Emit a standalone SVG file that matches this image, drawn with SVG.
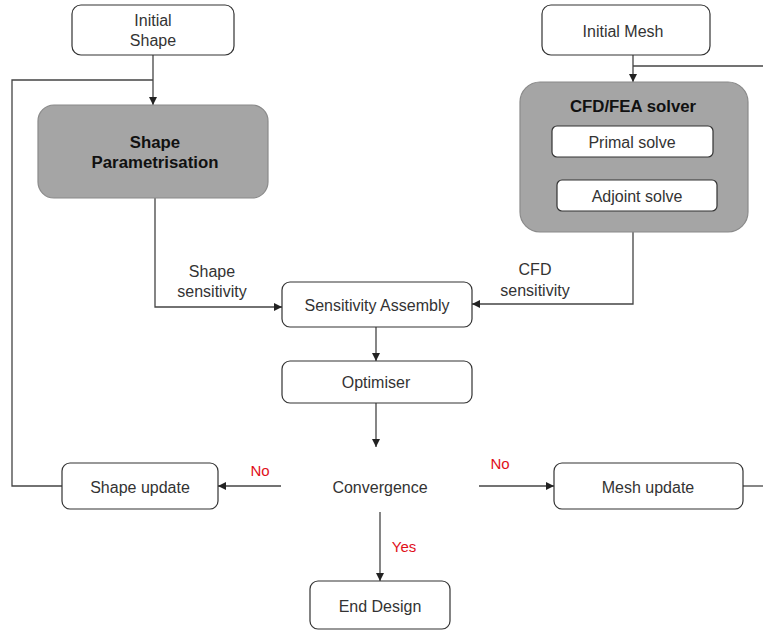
<svg xmlns="http://www.w3.org/2000/svg" width="763" height="631" viewBox="0 0 763 631">
<defs>
<marker id="arr" viewBox="0 0 10 10" refX="10" refY="5" markerWidth="8" markerHeight="8" markerUnits="userSpaceOnUse" orient="auto">
<path d="M0,0 L10,5 L0,10 z" fill="#222"/>
</marker>
<style>
.box{fill:#fff;stroke:#333;stroke-width:1.2}
.gray{fill:#a5a5a5;stroke:#8a8a8a;stroke-width:1.2}
.t{font-family:"Liberation Sans",Arial,sans-serif;font-size:16px;fill:#333;text-anchor:middle;dominant-baseline:central}
.b{font-weight:bold;fill:#111;font-size:16.8px}
.red{fill:#e0101a}
.ln{fill:none;stroke:#444;stroke-width:1.3}
.la{fill:none;stroke:#444;stroke-width:1.3;marker-end:url(#arr)}
</style>
</defs>
<rect width="763" height="631" fill="#fff"/>
<g id="connectors">
<path class="la" d="M153,55 V105"/>
<path class="ln" d="M153,80 H12 V486 H62"/>
<path class="la" d="M633,55 V82"/>
<path class="ln" d="M633,66 H763"/>
<path class="la" d="M155,198 V307 H282"/>
<path class="la" d="M633,232 V304 H472"/>
<path class="la" d="M376,327 V361"/>
<path class="la" d="M376,403 V447"/>
<path class="la" d="M281,486 H218"/>
<path class="la" d="M479,486 H554"/>
<path class="ln" d="M743,486 H763"/>
<path class="la" d="M380,512 V581"/>
<text class="t" x="212" y="271">Shape</text>
<text class="t" x="212" y="291">sensitivity</text>
<text class="t" x="535" y="269">CFD</text>
<text class="t" x="535" y="290">sensitivity</text>
<text class="t red" x="260" y="470" style="font-size:15px">No</text>
<text class="t red" x="500" y="463" style="font-size:15px">No</text>
<text class="t red" x="404" y="546" style="font-size:15px">Yes</text>
</g>
<g id="initial-shape">
<rect class="box" x="72" y="5" width="162" height="50" rx="9"/>
<text class="t" x="153" y="20">Initial</text>
<text class="t" x="153" y="40">Shape</text>
</g>
<g id="shape-parametrisation">
<rect class="gray" x="38" y="105" width="230" height="93" rx="16"/>
<text class="t b" x="155" y="142">Shape</text>
<text class="t b" x="155" y="162">Parametrisation</text>
</g>
<g id="initial-mesh">
<rect class="box" x="542" y="5" width="168" height="50" rx="9"/>
<text class="t" x="623" y="31">Initial  Mesh</text>
</g>
<g id="cfd-solver">
<rect class="gray" x="520" y="82" width="228" height="150" rx="20"/>
<text class="t b" x="633" y="106">CFD/FEA solver</text>
</g>
<g id="primal-solve">
<rect class="box" x="552" y="126" width="161" height="31" rx="5"/>
<text class="t" x="632" y="142">Primal solve</text>
</g>
<g id="adjoint-solve">
<rect class="box" x="557" y="180" width="160" height="31" rx="5"/>
<text class="t" x="637" y="196">Adjoint solve</text>
</g>
<g id="sensitivity-assembly">
<rect class="box" x="282" y="282" width="190" height="45" rx="8"/>
<text class="t" x="377" y="305">Sensitivity Assembly</text>
</g>
<g id="optimiser">
<rect class="box" x="282" y="361" width="190" height="42" rx="8"/>
<text class="t" x="376" y="382">Optimiser</text>
</g>
<g id="convergence">
<text class="t" x="380" y="487">Convergence</text>
</g>
<g id="shape-update">
<rect class="box" x="62" y="463" width="156" height="46" rx="8"/>
<text class="t" x="140" y="487">Shape update</text>
</g>
<g id="mesh-update">
<rect class="box" x="554" y="463" width="189" height="46" rx="8"/>
<text class="t" x="648" y="487">Mesh update</text>
</g>
<g id="end-design">
<rect class="box" x="310" y="581" width="140" height="48" rx="8"/>
<text class="t" x="380" y="606">End Design</text>
</g>
</svg>
